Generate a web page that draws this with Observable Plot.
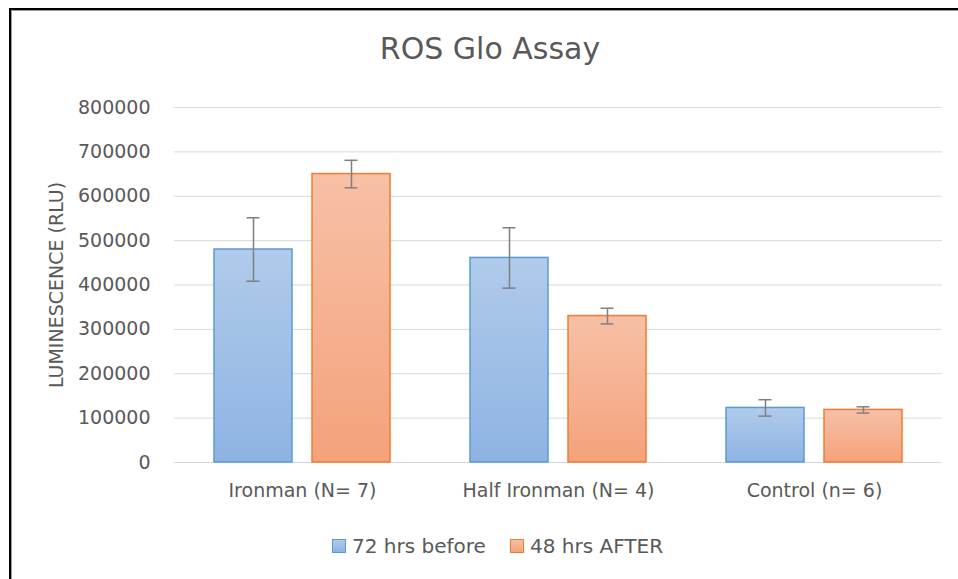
<!DOCTYPE html>
<html>
<head>
<meta charset="utf-8">
<script src="https://cdn.jsdelivr.net/npm/d3@7"></script>
<script src="https://cdn.jsdelivr.net/npm/@observablehq/plot@0.6"></script>
<style>
  html, body { margin: 0; padding: 0; background: #fff; overflow: hidden; width: 958px; height: 579px; }
  body { position: relative; font-family: "DejaVu Sans", sans-serif; color: #595959; }
  #frame { position: absolute; left: 9px; top: 8px; width: 1000px; height: 600px;
           border-left: 2px solid #000; border-top: 2px solid #000; box-shadow: inset 1px 1px 0 #9a9a9a; }
  #title { position: absolute; top: 34px; left: 490px; transform: translateX(-50%); white-space: nowrap;
           font-size: 30px; line-height: 30px; color: #595959; }
  #chart { position: absolute; left: 0; top: 80px; }
  #legend { position: absolute; top: 536px; left: 332px; font-size: 20px; line-height: 20px; color: #595959; white-space: nowrap; }
  .item { position: absolute; top: 0; display: flex; align-items: center; }
  .sw { width: 12px; height: 12px; margin-right: 6px; box-sizing: content-box; }
</style>
</head>
<body>
<div id="frame"></div>
<div id="title">ROS Glo Assay</div>
<div id="chart"></div>
<div id="legend"></div>
<script>
// ---- data ----
const groups = ["Ironman (N= 7)", "Half Ironman (N= 4)", "Control (n= 6)"];
const seriesNames = ["72 hrs before", "48 hrs AFTER"];
const before = [480000, 461000, 123000];
const beforeErr = [71500, 68000, 18500];
const after = [650000, 330000, 118500];
const afterErr = [31000, 17600, 7000];
const yTicks = [0, 100000, 200000, 300000, 400000, 500000, 600000, 700000, 800000];
const yLabel = "LUMINESCENCE (RLU)";

const rows = groups.flatMap((g, i) => [
  {group: g, series: seriesNames[0], value: before[i], err: beforeErr[i]},
  {group: g, series: seriesNames[1], value: after[i], err: afterErr[i]}
]);

const colors = {
  [seriesNames[0]]: {top: "#b0cbeb", bottom: "#8eb3e2", stroke: "#5b9bd5", id: "gradBlue"},
  [seriesNames[1]]: {top: "#f7c0a6", bottom: "#f4a27b", stroke: "#ed7d31", id: "gradOrange"}
};

const plot = Plot.plot({
  width: 958,
  height: 450,
  marginLeft: 174,
  marginRight: 16,
  marginTop: 27,
  marginBottom: 68,
  style: {fontFamily: "DejaVu Sans, sans-serif", fontSize: "19px", color: "#595959", background: "transparent", overflow: "visible"},
  fx: {domain: groups, padding: 0, axis: "bottom", tickSize: 0, tickPadding: 21, label: null},
  x: {domain: seriesNames, paddingInner: 0.204, paddingOuter: 0.408, axis: null},
  y: {domain: [0, 800000], ticks: yTicks, tickSize: 0, tickPadding: 24, tickFormat: d3.format("d"),
      label: yLabel, labelAnchor: "center", labelOffset: 125, labelArrow: false},
  marks: [
    Plot.ruleY(yTicks, {stroke: "#d9d9d9", strokeWidth: 1}),
    ...seriesNames.map(s => Plot.barY(rows.filter(d => d.series === s), {
      fx: "group", x: "series", y: "value",
      fill: `url(#${colors[s].id})`, stroke: colors[s].stroke, strokeWidth: 1.5
    })),
    Plot.ruleX(rows, {fx: "group", x: "series", y1: d => d.value - d.err, y2: d => d.value + d.err, stroke: "#7f7f7f", strokeWidth: 1.5}),
    Plot.tickY(rows, {fx: "group", x: "series", y: d => d.value + d.err, insetLeft: 32.5, insetRight: 32.5, stroke: "#7f7f7f", strokeWidth: 1.5}),
    Plot.tickY(rows, {fx: "group", x: "series", y: d => d.value - d.err, insetLeft: 32.5, insetRight: 32.5, stroke: "#7f7f7f", strokeWidth: 1.5})
  ]
});

// strip any arrow that an older Plot may add to the axis label
plot.querySelectorAll("text").forEach(t => {
  if (t.textContent.includes("LUMINESCENCE") && t.textContent !== yLabel) {
    t.textContent = yLabel;
  }
});

// gradients
const NS = "http://www.w3.org/2000/svg";
const defs = document.createElementNS(NS, "defs");
for (const s of seriesNames) {
  const c = colors[s];
  const lg = document.createElementNS(NS, "linearGradient");
  lg.setAttribute("id", c.id);
  lg.setAttribute("x1", "0"); lg.setAttribute("y1", "0");
  lg.setAttribute("x2", "0"); lg.setAttribute("y2", "1");
  [[0, c.top], [1, c.bottom]].forEach(([o, col]) => {
    const st = document.createElementNS(NS, "stop");
    st.setAttribute("offset", o);
    st.setAttribute("stop-color", col);
    lg.appendChild(st);
  });
  defs.appendChild(lg);
}
plot.insertBefore(defs, plot.firstChild);
document.getElementById("chart").appendChild(plot);

// legend
const legend = document.getElementById("legend");
const lefts = [0, 178];
seriesNames.forEach((s, i) => {
  const c = colors[s];
  const item = document.createElement("div");
  item.className = "item";
  item.style.left = lefts[i] + "px";
  const sw = document.createElement("span");
  sw.className = "sw";
  sw.style.background = `linear-gradient(${c.top}, ${c.bottom})`;
  sw.style.border = `1px solid ${c.stroke}`;
  const t = document.createElement("span");
  t.textContent = s;
  item.appendChild(sw);
  item.appendChild(t);
  legend.appendChild(item);
});
</script>
</body>
</html>
